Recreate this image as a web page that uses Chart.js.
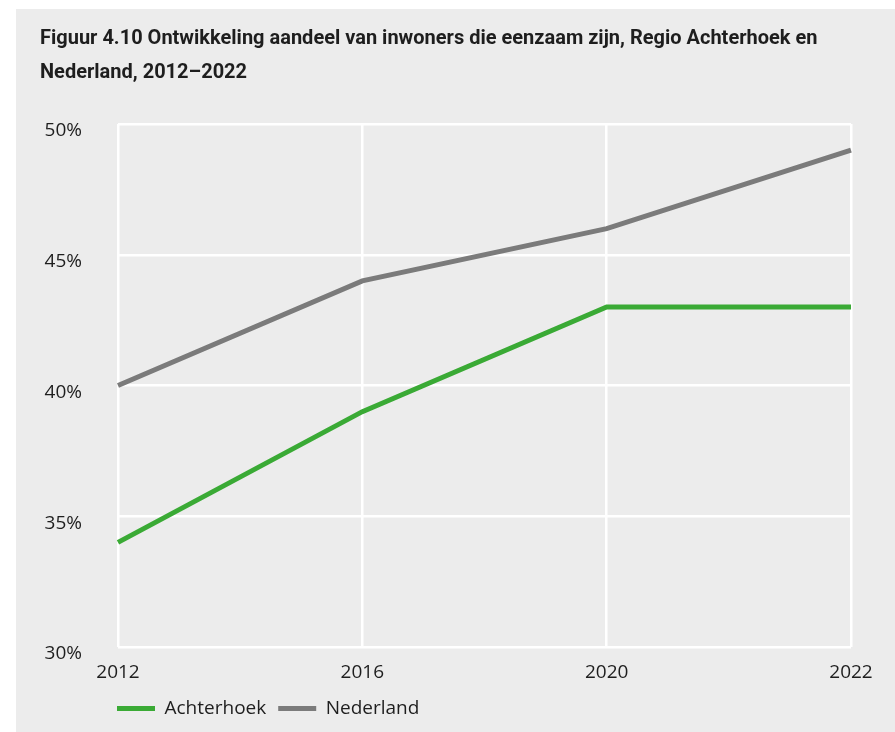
<!DOCTYPE html>
<html>
<head>
<meta charset="utf-8">
<script src="https://cdn.jsdelivr.net/npm/chart.js@4/dist/chart.umd.min.js"></script>
<style>
    html, body { margin: 0; padding: 0; background: #ffffff; }
    #panel {
        position: absolute;
        left: 16px;
        top: 9px;
        width: 879px;
        height: 723px;
        background: #ececec;
    }
</style>
</head>
<body>
<div id="panel"><canvas id="chart"></canvas></div>
<script>
// Chart data
const years = ['2012', '2016', '2020', '2022'];
const achterhoek = [34, 39, 43, 43];
const nederland = [40, 44, 46, 49];
const titleLines = [
    'Figuur 4.10 Ontwikkeling aandeel van inwoners die eenzaam zijn, Regio Achterhoek en',
    'Nederland, 2012\u20132022'
];

const GREEN = '#3aaa35';
const GREY = '#7b7b7b';
const TEXT = '#1e1e1e';
const LEGEND_SHIFT = 13;

// Move legend so the first swatch lines up with the plot's left edge
const legendShift = {
    id: 'legendShift',
    afterLayout: function(chart) {
        chart.legend.left -= LEGEND_SHIFT;
        chart.legend.right -= LEGEND_SHIFT;
    }
};

const ctx = document.getElementById('chart').getContext('2d');
new Chart(ctx, {
    type: 'line',
    data: {
        labels: years,
        datasets: [
            {
                label: 'Achterhoek',
                data: achterhoek,
                borderColor: GREEN,
                backgroundColor: GREEN,
                borderWidth: 5,
                pointRadius: 0,
                tension: 0
            },
            {
                label: 'Nederland',
                data: nederland,
                borderColor: GREY,
                backgroundColor: GREY,
                borderWidth: 5,
                pointRadius: 0,
                tension: 0
            }
        ]
    },
    options: {
        responsive: true,
        maintainAspectRatio: false,
        animation: false,
        layout: {
            padding: { left: 24, right: 44, top: 0, bottom: 4 }
        },
        plugins: {
            title: {
                display: true,
                text: titleLines,
                align: 'start',
                color: TEXT,
                font: { family: 'Roboto', size: 20, weight: 'bold', lineHeight: 34 / 20 },
                padding: { top: 13, bottom: 34 }
            },
            legend: {
                position: 'bottom',
                align: 'start',
                fullSize: false,
                labels: {
                    boxWidth: 38,
                    boxHeight: 5,
                    padding: 12,
                    color: TEXT,
                    font: { family: 'Open Sans', size: 19 },
                    generateLabels: function(chart) {
                        const items = Chart.defaults.plugins.legend.labels.generateLabels(chart);
                        items.forEach(function(item) {
                            item.fillStyle = item.strokeStyle;
                            item.lineWidth = 0;
                        });
                        return items;
                    }
                }
            },
            tooltip: { enabled: false }
        },
        scales: {
            x: {
                offset: false,
                grid: { color: '#ffffff', lineWidth: 2.5, drawTicks: false },
                border: { display: false },
                ticks: {
                    color: TEXT,
                    padding: 14,
                    maxRotation: 0,
                    font: { family: 'Open Sans', size: 19 }
                },
                afterFit: function(scale) { scale.height = 40; }
            },
            y: {
                min: 30,
                max: 50,
                grid: { color: '#ffffff', lineWidth: 2.5, drawTicks: false },
                border: { display: false },
                ticks: {
                    stepSize: 5,
                    color: TEXT,
                    padding: 36,
                    labelOffset: 7,
                    font: { family: 'Open Sans', size: 19 },
                    callback: function(value) { return value + '%'; }
                },
                afterFit: function(scale) { scale.width = 78; }
            }
        }
    },
    plugins: [legendShift]
});
</script>
</body>
</html>
